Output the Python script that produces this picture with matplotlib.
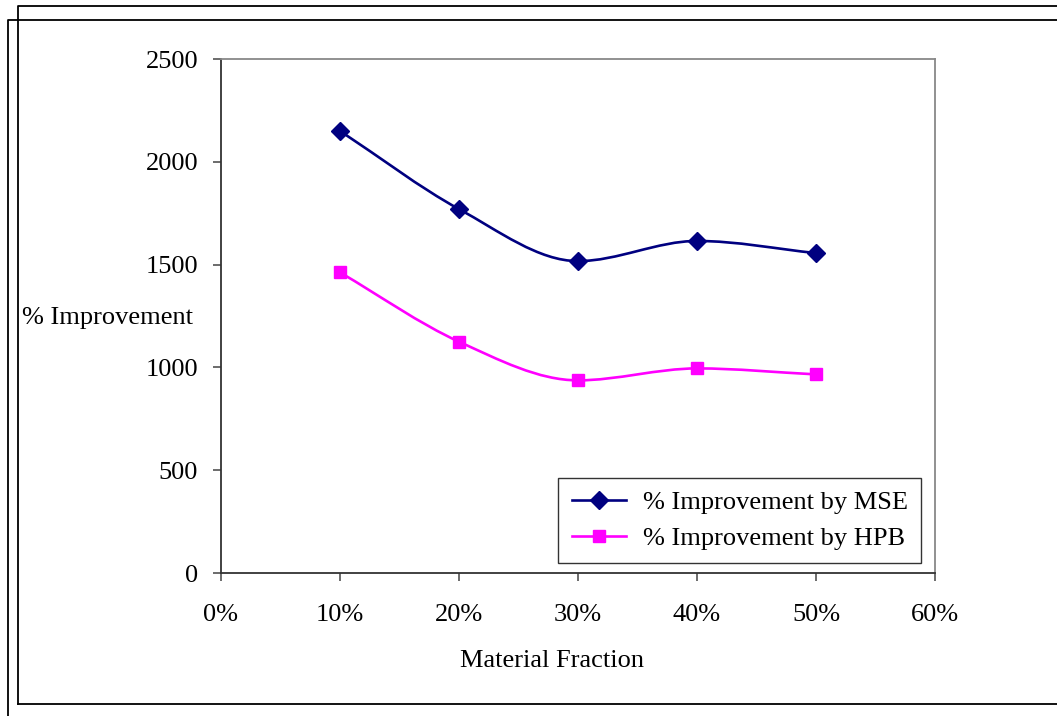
import matplotlib.pyplot as plt
import numpy as np
from matplotlib.path import Path
from matplotlib.patches import PathPatch
from matplotlib.lines import Line2D
from matplotlib.ticker import FuncFormatter

# data
fractions = [0.10, 0.20, 0.30, 0.40, 0.50]
mse_vals = [2150, 1770, 1517, 1615, 1556]
hpb_vals = [1462, 1125, 937, 995, 966]
labels = ["% Improvement by MSE", "% Improvement by HPB"]
x_ticks = [0.0, 0.1, 0.2, 0.3, 0.4, 0.5, 0.6]
y_ticks = [0, 500, 1000, 1500, 2000, 2500]

plt.rcParams["font.family"] = ["Liberation Serif", "DejaVu Serif"]


# smoothed line like the spreadsheet one: bezier segments, flat at peaks/dips
def smooth_path(xs, ys):
    x = np.asarray(xs, float)
    y = np.asarray(ys, float)
    n = len(x)
    m = np.zeros(n)
    for i in range(n):
        if i == 0:
            m[i] = (y[1] - y[0]) / (x[1] - x[0])
        elif i == n - 1:
            m[i] = (y[-1] - y[-2]) / (x[-1] - x[-2])
        elif (y[i] - y[i - 1]) * (y[i + 1] - y[i]) <= 0:
            m[i] = 0.0
        else:
            m[i] = (y[i + 1] - y[i - 1]) / (x[i + 1] - x[i - 1])
    verts = [(x[0], y[0])]
    codes = [Path.MOVETO]
    for i in range(n - 1):
        h = (x[i + 1] - x[i]) / 3
        verts += [(x[i] + h, y[i] + h * m[i]),
                  (x[i + 1] - h, y[i + 1] - h * m[i + 1]),
                  (x[i + 1], y[i + 1])]
        codes += [Path.CURVE4] * 3
    return Path(verts, codes)


fig = plt.figure(figsize=(10.57, 7.16), dpi=100, facecolor="white")
ax = fig.add_axes([221 / 1057, 1 - 573 / 716, (935 - 221) / 1057, (573 - 59) / 716])

series = [
    (mse_vals, "#000080", "D", 9),
    (hpb_vals, "#FF00FF", "s", 8),
]
handles = []
for (vals, col, mk, ms), lab in zip(series, labels):
    ax.add_patch(PathPatch(smooth_path(fractions, vals), facecolor="none",
                           edgecolor=col, lw=1.9, zorder=2))
    ax.plot(fractions, vals, ls="none", marker=mk, ms=ms, color=col, zorder=3)
    handles.append(Line2D([], [], color=col, lw=1.9, marker=mk, ms=ms, label=lab))

ax.set_xlim(0, 0.6)
ax.set_ylim(0, 2500)
ax.set_xticks(x_ticks)
ax.set_yticks(y_ticks)
ax.xaxis.set_major_formatter(FuncFormatter(lambda v, p: f"{v * 100:.0f}%"))

for side in ["left", "bottom"]:
    ax.spines[side].set_color("#333333")
    ax.spines[side].set_linewidth(1.3)
for side in ["top", "right"]:
    ax.spines[side].set_color("#888888")
    ax.spines[side].set_linewidth(1.3)

ax.tick_params(axis="y", direction="out", length=5.5, width=1.1, color="#444444",
               labelsize=19, pad=11)
ax.tick_params(axis="x", direction="out", length=5.5, width=1.1, color="#444444",
               labelsize=19, pad=17)

fig.text(22 / 1057, 1 - 318 / 716, "% Improvement", fontsize=19, va="center", ha="left")
fig.text(552 / 1057, 1 - 661 / 716, "Material Fraction", fontsize=19, va="center", ha="center")

leg = ax.legend(handles=handles, loc="lower right",
                bbox_to_anchor=(921 / 1057, 1 - 563 / 716), bbox_transform=fig.transFigure,
                borderaxespad=0, fontsize=19, frameon=True, fancybox=False, framealpha=1,
                edgecolor="#333333", handlelength=2.05, handletextpad=0.65,
                labelspacing=0.45, borderpad=0.5)
leg.get_frame().set_linewidth(1.0)

# the two overlapping page frames around the chart
W, H = 1057, 716
frame_lines = [
    ([18, 18, W + 5], [H - 704, H - 6, H - 6]),
    ([18, W + 5], [H - 704, H - 704]),
    ([8, 8, W + 5], [-5, H - 20, H - 20]),
]
for xs, ys in frame_lines:
    fig.add_artist(Line2D([x / W for x in xs], [y / H for y in ys],
                          transform=fig.transFigure, color="black", lw=1.3))

fig.savefig("out.png", dpi=100)
